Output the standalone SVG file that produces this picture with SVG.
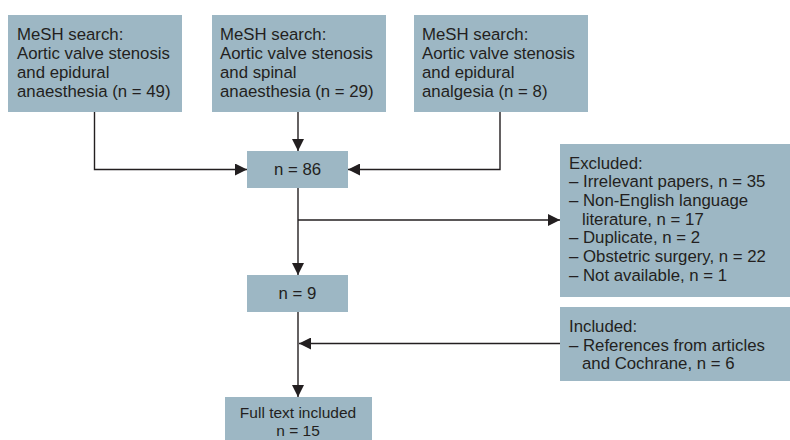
<svg xmlns="http://www.w3.org/2000/svg" width="790" height="440" viewBox="0 0 790 440">
<style>
.box{fill:#9db7c4}
.t{font-family:"Liberation Sans",Arial,sans-serif;font-size:16.8px;fill:#231f20}
.s{font-size:15.5px}
.c{text-anchor:middle}
.ln{fill:none;stroke:#231f20;stroke-width:1.4}
</style>
<defs>
<marker id="ah" viewBox="0 0 12 12" refX="12" refY="6" markerWidth="12" markerHeight="12" markerUnits="userSpaceOnUse" orient="auto">
<path d="M0,0 L12,6 L0,12 Z" fill="#231f20"/>
</marker>
</defs>
<rect width="790" height="440" fill="#ffffff"/>
<g id="connectors">
<path class="ln" d="M94.5,112 V169.5 H247" marker-end="url(#ah)"/>
<path class="ln" d="M298,112 V151" marker-end="url(#ah)"/>
<path class="ln" d="M500,112 V169.5 H348" marker-end="url(#ah)"/>
<path class="ln" d="M298,188 V275" marker-end="url(#ah)"/>
<path class="ln" d="M298,220 H560" marker-end="url(#ah)"/>
<path class="ln" d="M298,312 V397" marker-end="url(#ah)"/>
<path class="ln" d="M560,343.5 H299" marker-end="url(#ah)"/>
</g>
<g id="search1">
<rect class="box" x="8" y="15" width="174" height="97"/>
<text class="t" x="17" y="40">MeSH search:</text>
<text class="t" x="17" y="59">Aortic valve stenosis</text>
<text class="t" x="17" y="78">and epidural</text>
<text class="t" x="17" y="97">anaesthesia (n = 49)</text>
</g>
<g id="search2">
<rect class="box" x="212" y="15" width="174" height="97"/>
<text class="t" x="220" y="40">MeSH search:</text>
<text class="t" x="220" y="59">Aortic valve stenosis</text>
<text class="t" x="220" y="78">and spinal</text>
<text class="t" x="220" y="97">anaesthesia (n = 29)</text>
</g>
<g id="search3">
<rect class="box" x="414" y="15" width="174" height="97"/>
<text class="t" x="422" y="40">MeSH search:</text>
<text class="t" x="422" y="59">Aortic valve stenosis</text>
<text class="t" x="422" y="78">and epidural</text>
<text class="t" x="422" y="97">analgesia (n = 8)</text>
</g>
<g id="n86">
<rect class="box" x="247" y="151" width="101" height="37"/>
<text class="t c" x="297.5" y="175">n = 86</text>
</g>
<g id="excluded">
<rect class="box" x="560" y="144" width="230" height="153"/>
<text class="t" x="569" y="168.5">Excluded:</text>
<text class="t" x="569" y="187.2">– Irrelevant papers, n = 35</text>
<text class="t" x="569" y="205.9">– Non-English language</text>
<text class="t" x="582" y="224.6">literature, n = 17</text>
<text class="t" x="569" y="243.3">– Duplicate, n = 2</text>
<text class="t" x="569" y="262">– Obstetric surgery, n = 22</text>
<text class="t" x="569" y="280.7">– Not available, n = 1</text>
</g>
<g id="n9">
<rect class="box" x="247" y="275" width="101" height="37"/>
<text class="t c" x="297.5" y="299">n = 9</text>
</g>
<g id="included">
<rect class="box" x="560" y="307" width="230" height="74"/>
<text class="t" x="569" y="331.7">Included:</text>
<text class="t" x="569" y="350.5">– References from articles</text>
<text class="t" x="582" y="369.2">and Cochrane, n = 6</text>
</g>
<g id="fulltext">
<rect class="box" x="225" y="397" width="147" height="43"/>
<text class="t s c" x="298" y="418">Full text included</text>
<text class="t s c" x="298" y="435.5">n = 15</text>
</g>
</svg>
